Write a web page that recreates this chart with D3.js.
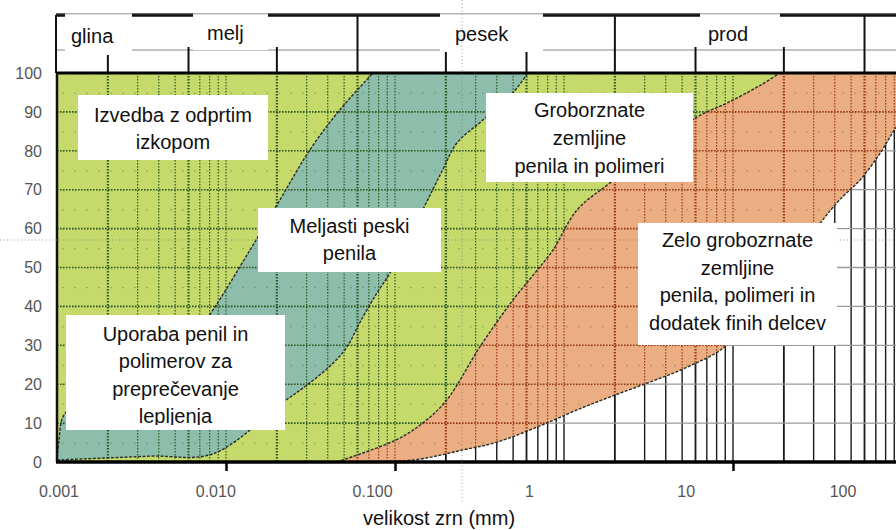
<!DOCTYPE html>
<html>
<head>
<meta charset="utf-8">
<script src="https://cdn.jsdelivr.net/npm/d3@7"></script>
<style>
  body { margin: 0; background: #fff; }
  svg { display: block; font-family: "Liberation Sans", Arial, sans-serif; }
</style>
</head>
<body>
<div id="chart"></div>
<script>
'use strict'

// ---------- data (grain size in mm, passing in %) ----------
const sizeTicks = [0.001, 0.01, 0.1, 1, 10, 100]
const sizeTickLabels = ['0.001', '0.010', '0.100', '1', '10', '100']
const axisMarks = [0.01, 0.1, 10]
const pctTicks = [0, 10, 20, 30, 40, 50, 60, 70, 80, 90, 100]

const fractionNames = ['glina', 'melj', 'pesek', 'prod']
const fractionBounds = [0.002, 0.006, 0.02, 0.06, 0.2, 0.6, 2, 6, 20, 60]
const fullBounds = [0.002, 0.06, 2, 60]

// left edge of the teal band
const curveB1 = [[0.001, 0], [0.001028, 5.7], [0.0011, 12.1], [0.00157, 17.2], [0.0031, 24.9],
  [0.00535, 31.9], [0.00751, 36.5], [0.00837, 39.1], [0.01387, 54.5], [0.02085, 67.4],
  [0.0313, 80.2], [0.0471, 90.5], [0.0741, 100]]
// right edge of the teal band
const curveB2 = [[0.001, 0.5], [0.00355, 1.5], [0.00837, 2.1], [0.0218, 15.4], [0.0302, 19.8],
  [0.043, 25.4], [0.052, 29.6], [0.0622, 36.0], [0.0781, 43.4], [0.0935, 48.6], [0.1458, 64.8],
  [0.1915, 75.1], [0.2325, 82.0], [0.331, 87.9], [0.498, 94.9], [0.611, 100]]
// left edge of the orange band
const curveC = [[0.0452, 0], [0.1018, 5.7], [0.1458, 10.0], [0.2022, 15.9], [0.318, 29.6],
  [0.498, 41.6], [0.7185, 50.1], [0.861, 54.5], [1.195, 64.8], [1.865, 71.7],
  [3.24, 79.7], [6.13, 88.7], [9.23, 92.3], [14.6, 96.9], [18.9, 100]]
// right edge of the orange band
const curveD = [[0.0471, 0], [0.1274, 0.5], [0.2522, 3.1], [0.401, 5.1], [0.79, 10.0],
  [1.195, 13.4], [1.865, 16.7], [3.11, 20.3], [5.36, 24.4], [9.23, 30.1], [18.9, 47.6],
  [41.1, 66.6], [56.5, 72.5], [74.3, 79.4], [92.5, 86.1], [128.7, 94.3], [158, 100]]

const notes = [
  ['Izvedba z odprtim', 'izkopom'],
  ['Uporaba penil in', 'polimerov za', 'preprečevanje', 'lepljenja'],
  ['Meljasti peski', 'penila'],
  ['Groborznate', 'zemljine', 'penila in polimeri'],
  ['Zelo grobozrnate', 'zemljine', 'penila, polimeri in', 'dodatek finih delcev']
]
const axisTitle = 'velikost zrn (mm)'

// ---------- layout ----------
const svgWidth = 896
const svgHeight = 530
const plot = { left: 57, right: 896, top: 73, bottom: 462 }
const band = { top: 15, mid: 50 }

const noteBoxes = [
  { x0: 78, x1: 268, y0: 95, y1: 160, base: 122, lh: 27 },
  { x0: 66, x1: 285, y0: 315, y1: 430, base: 341, lh: 27.4 },
  { x0: 258, x1: 441, y0: 208, y1: 272, base: 233, lh: 27 },
  { x0: 486, x1: 693, y0: 93, y1: 182, base: 117, lh: 28 },
  { x0: 638, x1: 837, y0: 223, y1: 345, base: 247, lh: 27.7 }
]
const nameBoxes = [
  { x0: 65, x1: 132, y0: 13, y1: 55, tx: 71, ty: 43 },
  { x0: 193, x1: 268, y0: 13, y1: 50, tx: 207, ty: 40 },
  { x0: 440, x1: 543, y0: 13, y1: 52, tx: 455, ty: 41 },
  { x0: 700, x1: 780, y0: 13, y1: 47, tx: 708, ty: 41 }
]

const svg = d3.select('#chart').append('svg')
  .attr('width', svgWidth)
  .attr('height', svgHeight)

// ---------- scales ----------
const x = d3.scaleLog().domain([0.001, 100]).range([plot.left, 902])
const xLabel = d3.scaleLog().domain([0.001, 100]).range([59, 843])
const y = d3.scaleLinear().domain([0, 100]).range([plot.bottom, plot.top])

const line = d3.line()
  .x(d => x(d[0]))
  .y(d => y(d[1]))
  .curve(d3.curveCatmullRom.alpha(0.5))

const rev = arr => arr.slice().reverse()
const x0 = x(0.001), xFar = x(1000)

const tealPath = line(curveB1) + 'L' + line(rev(curveB2)).slice(1) + 'Z'
const leftOfC = `M${x0},${y(100)}L${x0},${y(0)}L` + line(curveC).slice(1) + 'Z'
const leftOfD = `M${x0},${y(100)}L${x0},${y(0)}L` + line(curveD).slice(1) + 'Z'
const orangePath = line(curveC) + 'L' + line(rev(curveD)).slice(1) + 'Z'
const whitePath = line(curveD) + `L${xFar},${y(100)}L${xFar},${y(0)}Z`

// ---------- defs ----------
const defs = svg.append('defs')
defs.append('clipPath').attr('id', 'plot-clip')
  .append('rect')
  .attr('x', plot.left).attr('y', plot.top)
  .attr('width', plot.right - plot.left).attr('height', plot.bottom - plot.top)
defs.append('clipPath').attr('id', 'green-clip').append('path').attr('d', leftOfC)
defs.append('clipPath').attr('id', 'orange-clip').append('path').attr('d', orangePath)
defs.append('clipPath').attr('id', 'white-clip').append('path').attr('d', whitePath)
defs.append('clipPath').attr('id', 'color-clip').append('path').attr('d', leftOfD)
defs.append('clipPath').attr('id', 'note2-clip')
  .append('rect').attr('x', 0).attr('y', 0).attr('width', svgWidth).attr('height', 425)

const dots = defs.append('pattern')
  .attr('id', 'dots')
  .attr('patternUnits', 'userSpaceOnUse')
  .attr('x', plot.left).attr('y', plot.top)
  .attr('width', 12).attr('height', (plot.bottom - plot.top) / 20)
dots.append('circle').attr('cx', 6).attr('cy', 0.5).attr('r', 0.9).attr('fill', 'rgba(50,80,30,0.35)')

// ---------- plot areas ----------
const area = svg.append('g').attr('clip-path', 'url(#plot-clip)')

area.append('rect')
  .attr('x', plot.left).attr('y', plot.top)
  .attr('width', plot.right - plot.left).attr('height', plot.bottom - plot.top)
  .attr('fill', '#c6da6c')

area.append('path').attr('d', tealPath).attr('fill', '#8dbdab')
area.append('path').attr('d', orangePath).attr('fill', '#ebae82')
area.append('path').attr('d', whitePath).attr('fill', '#ffffff')

// texture dots in coloured part
area.append('g').attr('clip-path', 'url(#color-clip)')
  .append('rect')
  .attr('x', plot.left).attr('y', plot.top)
  .attr('width', plot.right - plot.left).attr('height', plot.bottom - plot.top)
  .attr('fill', 'url(#dots)')

// ---------- grids ----------
const minor = x.ticks()

function drawGrid(clip, vColor, hColor, dash, vWidth, boldWidth, hWidth) {
  const g = area.append('g').attr('clip-path', `url(#${clip})`)
  g.selectAll('.v')
    .data(minor)
    .enter().append('line')
    .attr('x1', d => x(d)).attr('x2', d => x(d))
    .attr('y1', plot.top).attr('y2', plot.bottom)
    .attr('stroke', vColor)
    .attr('stroke-width', d => fractionBounds.includes(+d.toPrecision(3)) ? boldWidth : vWidth)
    .attr('stroke-dasharray', dash)
  g.selectAll('.h')
    .data(pctTicks)
    .enter().append('line')
    .attr('x1', plot.left).attr('x2', plot.right)
    .attr('y1', d => y(d)).attr('y2', d => y(d))
    .attr('stroke', hColor)
    .attr('stroke-width', hWidth)
    .attr('stroke-dasharray', dash)
}

drawGrid('green-clip', '#2f5a22', '#2f5a22', '1.6,1.4', 1.2, 2.2, 1.6)
drawGrid('orange-clip', '#9c3a14', '#9c3a14', '1.6,1.4', 1.2, 2.2, 1.6)
drawGrid('white-clip', '#1a1a1a', '#9a9a9a', null, 1.4, 1.8, 1.3)

// curve outlines
area.selectAll('.edge')
  .data([curveB1, curveB2, curveC, curveD])
  .enter().append('path')
  .attr('d', line)
  .attr('fill', 'none')
  .attr('stroke', '#2a2a2a')
  .attr('stroke-width', 1.4)
  .attr('stroke-dasharray', '3,1.5')

// ---------- fraction band on top ----------
svg.append('line')
  .attr('x1', plot.left).attr('x2', plot.right)
  .attr('y1', band.mid).attr('y2', band.mid)
  .attr('stroke', '#8a8a8a').attr('stroke-width', 1.2)

svg.selectAll('.bound')
  .data(fractionBounds)
  .enter().append('line')
  .attr('x1', d => x(d)).attr('x2', d => x(d))
  .attr('y1', d => fullBounds.includes(d) ? band.top : band.mid - 3)
  .attr('y2', plot.top)
  .attr('stroke', '#111').attr('stroke-width', 2)

svg.append('line')
  .attr('x1', plot.left - 1).attr('x2', plot.right)
  .attr('y1', band.top).attr('y2', band.top)
  .attr('stroke', '#111').attr('stroke-width', 3.5)

svg.append('line')
  .attr('x1', plot.left - 1).attr('x2', plot.left - 1)
  .attr('y1', band.top).attr('y2', plot.top)
  .attr('stroke', '#111').attr('stroke-width', 2)

svg.selectAll('.name-box')
  .data(nameBoxes)
  .enter().append('rect')
  .attr('x', d => d.x0).attr('y', d => d.y0)
  .attr('width', d => d.x1 - d.x0).attr('height', d => d.y1 - d.y0)
  .attr('fill', '#fff')

svg.append('line')
  .attr('x1', plot.left - 1).attr('x2', plot.right)
  .attr('y1', band.top - 1.2).attr('y2', band.top - 1.2)
  .attr('stroke', '#777').attr('stroke-width', 0.8)

svg.selectAll('.name')
  .data(fractionNames)
  .enter().append('text')
  .attr('x', (d, i) => nameBoxes[i].tx)
  .attr('y', (d, i) => nameBoxes[i].ty)
  .attr('font-size', 20)
  .attr('fill', '#111')
  .text(d => d)

// ---------- axes ----------
// plot frame
svg.append('line')
  .attr('x1', plot.left - 1).attr('x2', plot.right)
  .attr('y1', plot.top).attr('y2', plot.top)
  .attr('stroke', '#000').attr('stroke-width', 3)

svg.append('line')
  .attr('x1', plot.left).attr('x2', plot.left)
  .attr('y1', plot.top).attr('y2', plot.bottom)
  .attr('stroke', '#111').attr('stroke-width', 2.5)

const xAxis = svg.append('g')
  .attr('transform', `translate(0,${plot.bottom})`)
  .call(d3.axisBottom(x).tickValues(axisMarks).tickFormat('').tickSize(9).tickSizeOuter(0))
xAxis.select('.domain').attr('stroke', '#000').attr('stroke-width', 3.5)
  .attr('d', `M${plot.left - 1},0H${plot.right}`)
xAxis.selectAll('.tick line').attr('stroke', '#000').attr('stroke-width', 2.5)

svg.selectAll('.x-label')
  .data(sizeTicks)
  .enter().append('text')
  .attr('x', d => xLabel(d))
  .attr('y', 497)
  .attr('text-anchor', 'middle')
  .attr('font-size', 16)
  .attr('fill', '#555')
  .text((d, i) => sizeTickLabels[i])

svg.selectAll('.y-label')
  .data(pctTicks)
  .enter().append('text')
  .attr('x', 42)
  .attr('y', d => y(d))
  .attr('dy', '0.36em')
  .attr('text-anchor', 'end')
  .attr('font-size', 16)
  .attr('fill', '#555')
  .text(d => d)

svg.append('text')
  .attr('x', 439)
  .attr('y', 525)
  .attr('text-anchor', 'middle')
  .attr('font-size', 20)
  .attr('fill', '#111')
  .text(axisTitle)

// scan guide lines
svg.append('line')
  .attr('x1', 0).attr('x2', svgWidth).attr('y1', 240).attr('y2', 240)
  .attr('stroke', '#777').attr('stroke-width', 1).attr('stroke-dasharray', '1,2.5').attr('opacity', 0.7)
svg.append('line')
  .attr('x1', 462).attr('x2', 462).attr('y1', 0).attr('y2', 502)
  .attr('stroke', '#777').attr('stroke-width', 1).attr('stroke-dasharray', '1,2.5').attr('opacity', 0.7)

// ---------- annotation boxes ----------
const noteG = svg.selectAll('.note')
  .data(notes)
  .enter().append('g')
  .attr('class', 'note')

noteG.append('rect')
  .attr('x', (d, i) => noteBoxes[i].x0).attr('y', (d, i) => noteBoxes[i].y0)
  .attr('width', (d, i) => noteBoxes[i].x1 - noteBoxes[i].x0)
  .attr('height', (d, i) => noteBoxes[i].y1 - noteBoxes[i].y0)
  .attr('fill', '#fff')

noteG.each(function (lines, i) {
  const b = noteBoxes[i]
  d3.select(this).append('g')
    .attr('clip-path', i === 1 ? 'url(#note2-clip)' : null)
    .selectAll('text')
    .data(lines)
    .enter().append('text')
    .attr('x', (b.x0 + b.x1) / 2)
    .attr('y', (d, j) => b.base + j * b.lh)
    .attr('text-anchor', 'middle')
    .attr('font-size', 20)
    .attr('fill', '#111')
    .text(d => d)
})
</script>
</body>
</html>
